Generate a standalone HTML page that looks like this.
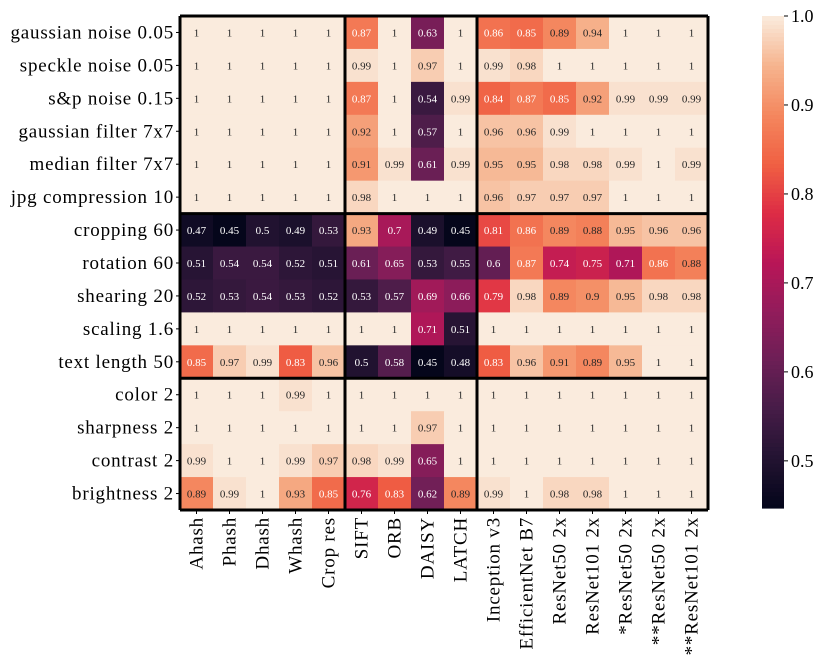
<!DOCTYPE html>
<html><head><meta charset="utf-8"><style>
body{margin:0;background:#fff;}
svg{display:block;font-family:"Liberation Serif",serif;}
</style></head><body>
<svg id="chart" width="830" height="664"></svg>
<script>
const rows=["gaussian noise 0.05","speckle noise 0.05","s&p noise 0.15","gaussian filter 7x7","median filter 7x7","jpg compression 10","cropping 60","rotation 60","shearing 20","scaling 1.6","text length 50","color 2","sharpness 2","contrast 2","brightness 2"];
const cols=["Ahash","Phash","Dhash","Whash","Crop res","SIFT","ORB","DAISY","LATCH","Inception v3","EfficientNet B7","ResNet50 2x","ResNet101 2x","*ResNet50 2x","**ResNet50 2x","**ResNet101 2x"];
const values=[
[1,1,1,1,1,0.87,1,0.63,1,0.86,0.85,0.89,0.94,1,1,1],
[1,1,1,1,1,0.99,1,0.97,1,0.99,0.98,1,1,1,1,1],
[1,1,1,1,1,0.87,1,0.54,0.99,0.84,0.87,0.85,0.92,0.99,0.99,0.99],
[1,1,1,1,1,0.92,1,0.57,1,0.96,0.96,0.99,1,1,1,1],
[1,1,1,1,1,0.91,0.99,0.61,0.99,0.95,0.95,0.98,0.98,0.99,1,0.99],
[1,1,1,1,1,0.98,1,1,1,0.96,0.97,0.97,0.97,1,1,1],
[0.47,0.45,0.5,0.49,0.53,0.93,0.7,0.49,0.45,0.81,0.86,0.89,0.88,0.95,0.96,0.96],
[0.51,0.54,0.54,0.52,0.51,0.61,0.65,0.53,0.55,0.6,0.87,0.74,0.75,0.71,0.86,0.88],
[0.52,0.53,0.54,0.53,0.52,0.53,0.57,0.69,0.66,0.79,0.98,0.89,0.9,0.95,0.98,0.98],
[1,1,1,1,1,1,1,0.71,0.51,1,1,1,1,1,1,1],
[0.85,0.97,0.99,0.83,0.96,0.5,0.58,0.45,0.48,0.83,0.96,0.91,0.89,0.95,1,1],
[1,1,1,0.99,1,1,1,1,1,1,1,1,1,1,1,1],
[1,1,1,1,1,1,1,0.97,1,1,1,1,1,1,1,1],
[0.99,1,1,0.99,0.97,0.98,0.99,0.65,1,1,1,1,1,1,1,1],
[0.89,0.99,1,0.93,0.85,0.76,0.83,0.62,0.89,0.99,1,0.98,0.98,1,1,1]
];
const cbTicks=[0.5,0.6,0.7,0.8,0.9,1.0];
const vmin=0.447, vmax=1.0;
const stops=[[0,3,5,26],[0.1,34,19,49],[0.2,69,28,71],[0.3,108,31,86],[0.4,146,28,91],[0.5,185,22,87],[0.6,221,44,69],[0.7,240,96,67],[0.8,244,135,94],[0.9,246,180,142],[1,250,235,221]];
function cmap(v){let t=Math.max(0,Math.min(1,(v-vmin)/(vmax-vmin)));
 for(let i=1;i<stops.length;i++){if(t<=stops[i][0]){const a=stops[i-1],b=stops[i],f=(t-a[0])/(b[0]-a[0]);
 return `rgb(${Math.round(a[1]+f*(b[1]-a[1]))},${Math.round(a[2]+f*(b[2]-a[2]))},${Math.round(a[3]+f*(b[3]-a[3]))})`;}}
 return 'rgb(250,235,221)';}
const X0=180,Y0=16,W=528,H=494;
const cw=W/cols.length, ch=H/rows.length;
const xPos=j=>X0+j*cw, yPos=i=>Y0+i*ch;
const NS="http://www.w3.org/2000/svg", svg=document.getElementById('chart');
function mk(t,a,txt){const e=document.createElementNS(NS,t);for(const k in a)e.setAttribute(k,a[k]);if(txt!==undefined)e.textContent=txt;svg.appendChild(e);return e;}
values.forEach((r,i)=>r.forEach((v,j)=>{
 const c=mk('rect',{x:xPos(j),y:yPos(i),width:cw+0.5,height:ch+0.5,fill:cmap(v)});
 
 
 const t=mk('text',{x:xPos(j)+cw/2,y:yPos(i)+ch/2+4,'text-anchor':'middle','font-size':11,fill:v<0.875?'#fff':'#262626'},String(v));
 
 
}));
rows.forEach((r,i)=>{
 const t=mk('text',{x:174,y:yPos(i)+ch/2+6,'text-anchor':'end','font-size':19,'letter-spacing':0.8},r);
 
 
 mk('line',{x1:176,x2:180,y1:yPos(i)+ch/2,y2:yPos(i)+ch/2,stroke:'#000'});
});
cols.forEach((c,j)=>{
 const x=xPos(j)+cw/2;
 const t=mk('text',{x:0,y:0,transform:`translate(${x+6},517) rotate(-90)`,'text-anchor':'end','font-size':19,'letter-spacing':0.8},c);
 
 
 mk('line',{x1:x,x2:x,y1:510,y2:514,stroke:'#000'});
});
[0,5,9,16].forEach(j=>mk('line',{x1:xPos(j),x2:xPos(j),y1:Y0,y2:Y0+H,stroke:'#000','stroke-width':3}));
[0,6,11,15].forEach(i=>mk('line',{x1:X0,x2:X0+W,y1:yPos(i),y2:yPos(i),stroke:'#000','stroke-width':3}));
const CX=762,CW=22,CT=16,CB=508;
const cy=v=>CB-(v-vmin)/(vmax-vmin)*(CB-CT);
for(let k=0;k<120;k++){const v0=vmin+(vmax-vmin)*k/120,v1=vmin+(vmax-vmin)*(k+1)/120;
 const r=mk('rect',{x:CX,y:cy(v1),width:CW,height:cy(v0)-cy(v1)+0.6,fill:cmap((v0+v1)/2)});
 
 }
cbTicks.forEach(v=>{const y=cy(v);mk('line',{x1:CX+CW,x2:CX+CW+4,y1:y,y2:y,stroke:'#000'});
 const t=mk('text',{x:CX+CW+7,y:y+6,'font-size':18},v.toFixed(1));
 
 });
</script>
</body></html>
